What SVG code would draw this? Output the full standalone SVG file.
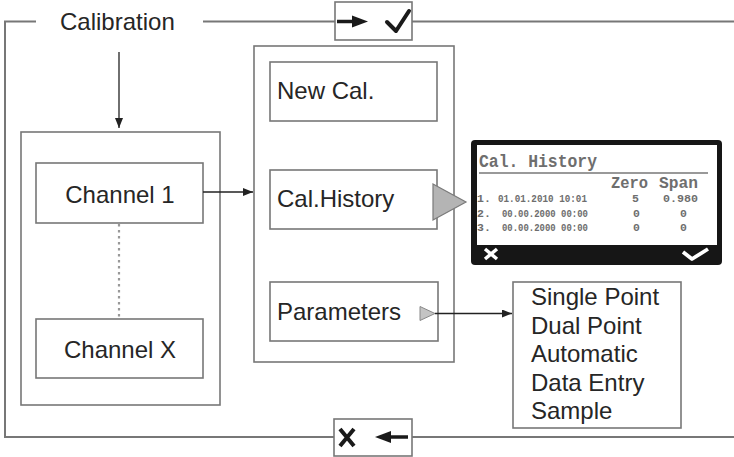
<svg xmlns="http://www.w3.org/2000/svg" width="734" height="457" viewBox="0 0 734 457">
<defs>
<marker id="ah" viewBox="0 0 10 8" refX="10" refY="4" markerWidth="10" markerHeight="8" markerUnits="userSpaceOnUse" orient="auto">
<path d="M0,0 L10,4 L0,8 Z" fill="#222"/>
</marker>
<style>
.frame{fill:none;stroke:#777;stroke-width:2}
.box{fill:#fff;stroke:#777;stroke-width:1.6}
.lbl{font-family:"Liberation Sans",Arial,sans-serif;font-size:24px;fill:#262626}
.conn{fill:none;stroke:#222;stroke-width:1.3}
.lcd{font-family:"Liberation Mono","DejaVu Sans Mono",monospace;fill:#6e6e6e;font-weight:bold}
.icon{fill:none;stroke:#1a1a1a;stroke-width:4}
</style>
</defs>
<rect width="734" height="457" fill="#fff"/>

<g id="frame">
<path class="frame" d="M36,21.5 H5 V437 H334 M412,437 H734 M203,21.5 H335 M412,21.5 H734"/>
<text class="lbl" x="60" y="29.5">Calibration</text>
</g>

<g id="ok-box">
<rect class="box" x="335" y="2" width="77" height="38"/>
<line x1="337" y1="21.5" x2="355" y2="21.5" stroke="#1a1a1a" stroke-width="3.5"/>
<path d="M352,15.5 L368,21.5 L352,27.5 Z" fill="#1a1a1a"/>
<path class="icon" d="M387,22 L396,31 L409,11" stroke-linecap="round" stroke-linejoin="round"/>
</g>

<g id="cancel-box">
<rect class="box" x="334" y="419" width="78" height="37"/>
<path class="icon" d="M340,429 L354,446 M354,429 L340,446"/>
<line x1="388" y1="437" x2="408" y2="437" stroke="#1a1a1a" stroke-width="3.5"/>
<path d="M375,437 L391,431 L391,443 Z" fill="#1a1a1a"/>
</g>

<g id="channels">
<rect class="box" x="21" y="132" width="199" height="273"/>
</g>
<g id="channel-1">
<rect class="box" x="36" y="163" width="167" height="60"/>
<text class="lbl" x="120" y="203" text-anchor="middle">Channel 1</text>
</g>
<g id="channel-x">
<rect class="box" x="36" y="319" width="167" height="59"/>
<text class="lbl" x="120" y="358" text-anchor="middle">Channel X</text>
</g>

<g id="menu">
<rect class="box" x="254" y="46" width="200" height="316"/>
</g>
<g id="new-cal">
<rect class="box" x="270" y="62" width="167" height="59"/>
<text class="lbl" x="277" y="99">New Cal.</text>
</g>
<g id="cal-history">
<rect class="box" x="270" y="170" width="167" height="59"/>
<text class="lbl" x="277" y="207">Cal.History</text>
<path d="M433,184 L466,202 L433,220 Z" fill="#b4b4b4" stroke="#7a7a7a" stroke-width="1.2"/>
</g>
<g id="parameters">
<rect class="box" x="270" y="282" width="168" height="59"/>
<text class="lbl" x="277" y="320">Parameters</text>
<path d="M420,306.5 L435,313.5 L420,320.5 Z" fill="#c4c4c4" stroke="#888" stroke-width="1"/>
</g>

<g id="lcd-screen">
<rect x="471" y="140" width="251" height="125" rx="4" fill="#161616"/>
<rect x="477" y="145" width="240" height="100" fill="#fff"/>
<text class="lcd" x="479" y="167" font-size="18" textLength="118" lengthAdjust="spacingAndGlyphs">Cal. History</text>
<line x1="479" y1="173" x2="708" y2="173" stroke="#777" stroke-width="1.5"/>
<text class="lcd" x="611" y="188" font-size="16" textLength="37" lengthAdjust="spacingAndGlyphs">Zero</text>
<text class="lcd" x="659" y="188" font-size="16" textLength="39" lengthAdjust="spacingAndGlyphs">Span</text>
<g font-size="11.5">
<text class="lcd" x="477" y="202">1.</text>
<text class="lcd" x="498" y="202" textLength="89" lengthAdjust="spacingAndGlyphs">01.01.2010 10:01</text>
<text class="lcd" x="632" y="202">5</text>
<text class="lcd" x="663" y="202" textLength="35" lengthAdjust="spacingAndGlyphs">0.980</text>
<text class="lcd" x="477" y="217">2.</text>
<text class="lcd" x="502" y="217" textLength="86" lengthAdjust="spacingAndGlyphs">00.00.2000 00:00</text>
<text class="lcd" x="633" y="217">0</text>
<text class="lcd" x="680" y="217">0</text>
<text class="lcd" x="477" y="231">3.</text>
<text class="lcd" x="502" y="231" textLength="86" lengthAdjust="spacingAndGlyphs">00.00.2000 00:00</text>
<text class="lcd" x="633" y="231">0</text>
<text class="lcd" x="680" y="231">0</text>
</g>
<path d="M485,249 L497,259 M497,249 L485,259" stroke="#fff" stroke-width="3.5" fill="none"/>
<path d="M683,252 L692,259 L708,249" stroke="#fff" stroke-width="3.8" fill="none" stroke-linejoin="round"/>
</g>

<g id="cal-types">
<rect class="box" x="513" y="282" width="168" height="146"/>
<text class="lbl" x="531" y="305">Single Point</text>
<text class="lbl" x="531" y="333.5">Dual Point</text>
<text class="lbl" x="531" y="362">Automatic</text>
<text class="lbl" x="531" y="390.5">Data Entry</text>
<text class="lbl" x="531" y="419">Sample</text>
</g>

<g id="connectors">
<line class="conn" x1="119" y1="52" x2="119" y2="128" marker-end="url(#ah)"/>
<line class="conn" x1="203" y1="192" x2="253" y2="192" marker-end="url(#ah)"/>
<line x1="119" y1="224" x2="119" y2="319" stroke="#999" stroke-width="2.2" stroke-dasharray="2.5,3.5"/>
<line class="conn" x1="435" y1="313.5" x2="512" y2="313.5" marker-end="url(#ah)"/>
</g>
</svg>
